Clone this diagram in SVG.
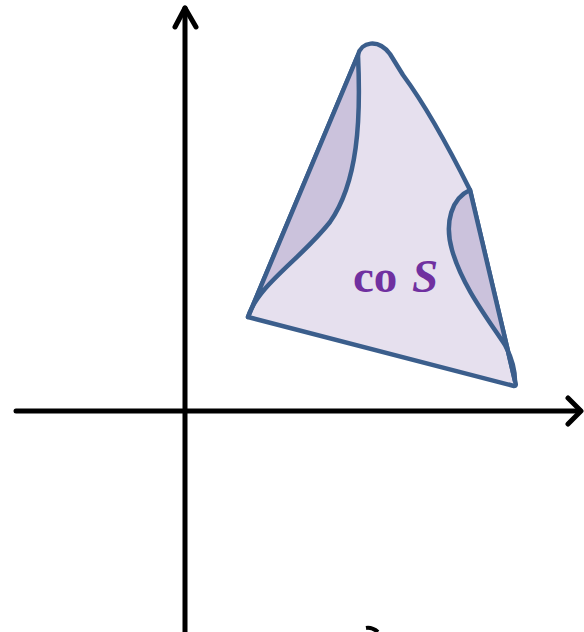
<svg xmlns="http://www.w3.org/2000/svg" width="584" height="632" viewBox="0 0 584 632">
  <style>
    .axis { stroke: #000; stroke-width: 5; fill: none; stroke-linecap: round; stroke-linejoin: round; }
    .edge { stroke: #3b5e8c; stroke-width: 4.5; stroke-linejoin: round; stroke-linecap: round; }
    .hull { fill: #e6e0ee; }
    .sliver { fill: #cbc2dc; }
    .lbl { font-family: "Liberation Serif", "Times New Roman", serif; font-weight: bold; fill: #7030a0; font-size: 47px; }
  </style>
  <rect width="584" height="632" fill="#ffffff"/>
  <g id="axes">
    <line class="axis" x1="185" y1="8" x2="185" y2="632"/>
    <polyline class="axis" points="175,27 185,8 196,27"/>
    <line class="axis" x1="16" y1="411" x2="580" y2="411"/>
    <polyline class="axis" points="568,398 581,411 568,424"/>
    <path d="M366,628 Q372,627 378,632" stroke="#000" stroke-width="4" fill="none"/>
  </g>
  <g id="coS">
    <path class="hull edge" d="M248,317 L358,55 C361,42 378,38 390,54 L403,75 C420,98 445,140 470,190 L515,381 Q517,386 514,386 L248,317 Z"/>
    <path class="sliver edge" d="M248,317 L358,55 C361,120 358,182 330,222 C300,260 258,285 248,317 Z"/>
    <path class="sliver edge" d="M470,190 C452,198 444,222 452,250 C462,285 485,315 505,345 C513,360 515,372 515,381 Z"/>
    <text class="lbl" x="353" y="292">co</text>
    <text class="lbl" x="412" y="292" font-style="italic">S</text>
  </g>
</svg>
